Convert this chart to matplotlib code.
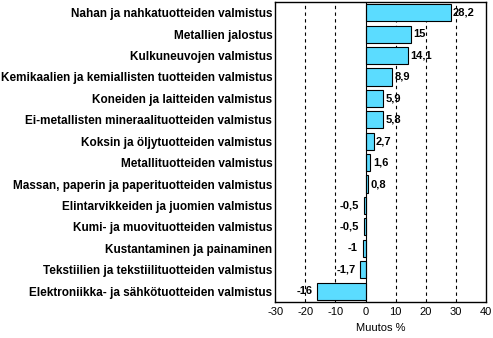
import matplotlib.pyplot as plt

categories = [
    "Nahan ja nahkatuotteiden valmistus",
    "Metallien jalostus",
    "Kulkuneuvojen valmistus",
    "Kemikaalien ja kemiallisten tuotteiden valmistus",
    "Koneiden ja laitteiden valmistus",
    "Ei-metallisten mineraalituotteiden valmistus",
    "Koksin ja öljytuotteiden valmistus",
    "Metallituotteiden valmistus",
    "Massan, paperin ja paperituotteiden valmistus",
    "Elintarvikkeiden ja juomien valmistus",
    "Kumi- ja muovituotteiden valmistus",
    "Kustantaminen ja painaminen",
    "Tekstiilien ja tekstiilituotteiden valmistus",
    "Elektroniikka- ja sähkötuotteiden valmistus",
]
values = [28.2, 15, 14.1, 8.9, 5.9, 5.8, 2.7, 1.6, 0.8, -0.5, -0.5, -1, -1.7, -16]
xticks = [-30, -20, -10, 0, 10, 20, 30, 40]

plt.rcParams['font.family'] = ['Liberation Sans', 'DejaVu Sans']

fig = plt.figure(figsize=(4.93, 3.38), dpi=100)
ax = fig.add_axes([0.558, 0.107, 0.428, 0.887])

y = list(range(len(categories)))
ax.barh(y, values, height=0.8, color='#5bdcff', edgecolor='black', linewidth=0.8, zorder=3)

# dashed grid lines
for t in xticks[1:-1]:
    if t != 0:
        ax.axvline(t, color='black', linestyle=(0, (3, 3)), linewidth=0.8, zorder=1)
ax.axvline(0, color='black', linewidth=0.8, zorder=4)

# value labels
for yi, v in zip(y, values):
    txt = f"{v:g}".replace('.', ',')
    if v >= 0:
        ax.text(v + 0.8, yi, txt, va='center', ha='left', fontsize=8, fontweight='bold', zorder=5)
    else:
        ax.text(v - 1.5, yi, txt, va='center', ha='right', fontsize=8, fontweight='bold', zorder=5)

ax.set_xlim(-30, 40)
ax.set_ylim(len(categories) - 0.5, -0.5)
ax.set_xticks(xticks)
ax.set_xticklabels([str(t) for t in xticks], fontsize=8)
ax.set_yticks(y)
ax.set_yticklabels(categories, fontsize=8.5, fontweight='bold')
ax.tick_params(axis='y', length=0, pad=2)
ax.tick_params(axis='x', length=0, pad=4)
ax.set_xlabel("Muutos %", fontsize=8, labelpad=4)
for s in ax.spines.values():
    s.set_linewidth(1.0)

plt.savefig("out.png", dpi=100)
